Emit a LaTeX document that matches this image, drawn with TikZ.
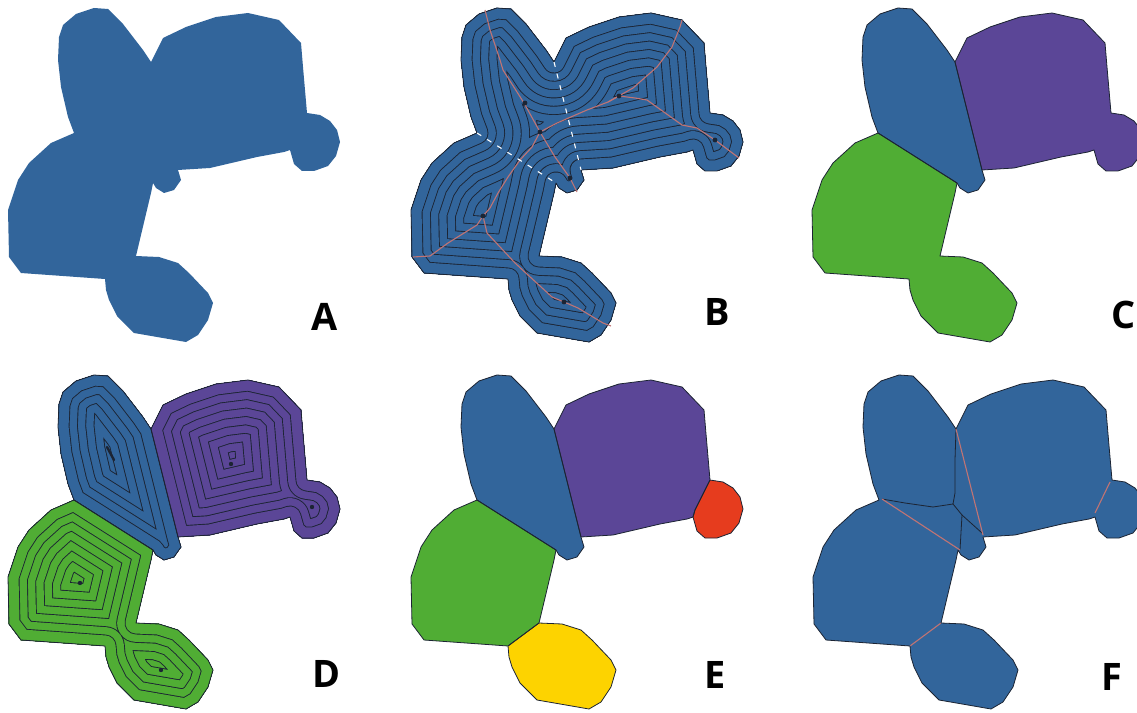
\documentclass[tikz,border=0pt]{standalone}
\usepackage{fontspec}
\setsansfont{Open Sans}
\usepackage{tikz}

\definecolor{regblue}{HTML}{32659B}
\definecolor{regpurple}{HTML}{5B4697}
\definecolor{reggreen}{HTML}{50AD34}
\definecolor{regred}{HTML}{E63C1E}
\definecolor{regyellow}{HTML}{FDD300}
\definecolor{ridgered}{HTML}{C07474}
\definecolor{inkline}{HTML}{1C2433}

% outlines of the regions, in pixels of panel A
\def\outline{(59,37) -- (63,25) -- (76,14) -- (94,8) -- (108,9) -- (123,24) -- (133,37) -- (143,50) -- (151,62) -- (163,38) -- (186,27) -- (216,17) -- (248,13) -- (279,20) -- (301,43) -- (303,67) -- (307,113) -- (320,115) -- (330,121) -- (337,130) -- (340,142) -- (336,156) -- (328,166) -- (314,171) -- (302,171) -- (294,164) -- (290,150) -- (284,152) -- (257,157) -- (210,168) -- (178,170) -- (181,180) -- (174,190) -- (164,193) -- (156,188) -- (153,183) -- (151,193) -- (136,256) -- (159,257) -- (178,263) -- (189,273) -- (208,293) -- (213,303) -- (208,320) -- (198,335) -- (186,342) -- (134,333) -- (117,316) -- (109,300) -- (106,290) -- (105,279) -- (21,273) -- (9,257) -- (8,210) -- (18,180) -- (29,163) -- (51,143) -- (74,133) -- (68,117) -- (61,87) -- (58,60) -- cycle}
\def\lobe{(151,62) -- (178,170) -- (181,180) -- (174,190) -- (164,193) -- (156,188) -- (153,183) -- (74,133) -- (68,117) -- (61,87) -- (58,60) -- (59,37) -- (63,25) -- (76,14) -- (94,8) -- (108,9) -- (123,24) -- (133,37) -- (143,50) -- cycle}
\def\purple{(151,62) -- (163,38) -- (186,27) -- (216,17) -- (248,13) -- (279,20) -- (301,43) -- (303,67) -- (307,113) -- (300,127) -- (292,143) -- (290,150) -- (284,152) -- (257,157) -- (210,168) -- (178,170) -- cycle}
\def\knob{(307,113) -- (320,115) -- (330,121) -- (337,130) -- (340,142) -- (336,156) -- (328,166) -- (314,171) -- (302,171) -- (294,164) -- (290,150) -- (292,143) -- (300,127) -- cycle}
\def\purpleknob{(151,62) -- (163,38) -- (186,27) -- (216,17) -- (248,13) -- (279,20) -- (301,43) -- (303,67) -- (307,113) -- (320,115) -- (330,121) -- (337,130) -- (340,142) -- (336,156) -- (328,166) -- (314,171) -- (302,171) -- (294,164) -- (290,150) -- (284,152) -- (257,157) -- (210,168) -- (178,170) -- cycle}
\def\green{(74,133) -- (51,143) -- (29,163) -- (18,180) -- (8,210) -- (9,257) -- (21,273) -- (105,279) -- (136,256) -- (151,193) -- (153,183) -- cycle}
\def\foot{(105,279) -- (106,290) -- (109,300) -- (117,316) -- (134,333) -- (186,342) -- (198,335) -- (208,320) -- (213,303) -- (208,293) -- (189,273) -- (178,263) -- (159,257) -- (136,256) -- cycle}
\def\greenfoot{(74,133) -- (51,143) -- (29,163) -- (18,180) -- (8,210) -- (9,257) -- (21,273) -- (105,279) -- (106,290) -- (109,300) -- (117,316) -- (134,333) -- (186,342) -- (198,335) -- (208,320) -- (213,303) -- (208,293) -- (189,273) -- (178,263) -- (159,257) -- (136,256) -- (151,193) -- (153,183) -- cycle}

% inner offset lines of a region
\newcommand\rings[2]{%
  \begin{scope}
    \clip #1;
    \fill[#2] #1;
    \foreach \k in {8,7,...,0}{%
      \pgfmathsetmacro\w{2*(11+8.3*\k)}
      \draw[inkline, line join=round, line width={(\w+0.9)*1bp}] #1;
      \draw[#2, line join=round, line width={(\w-0.9)*1bp}] #1;
    }
  \end{scope}}

\begin{document}
\begin{tikzpicture}[x=1bp, y=-1bp,
  rim/.style={draw=inkline, line width=0.8bp, line join=round},
  ridge/.style={ridgered, line width=1.1bp, line join=round},
  cutline/.style={white, line width=1.1bp, dash pattern=on 5bp off 7bp},
  seed/.style={fill=inkline},
  tag/.style={font=\sffamily\bfseries\fontsize{38}{38}\selectfont, inner sep=0pt, anchor=base west}
]
\useasboundingbox (0,0) rectangle (1137,713);

% A
\fill[regblue] \outline;
\node[tag] (labA) at (311,330) {A};

% B
\begin{scope}[shift={(403,0)}]
  \rings{\outline}{regblue}
  \draw[rim] \outline;
  \draw[ridge] (82,10) -- (87,30) -- (97,60) -- (100,70) -- (121,103) -- (137,132);
  \draw[ridge] (137,132) -- (154,123) -- (184,110) -- (205,102) -- (216,96) -- (232,98) -- (244,100) -- (279,125) -- (294,128) -- (312,140) -- (336,158);
  \draw[ridge] (205,102) -- (230,88) -- (254,67) -- (269,47) -- (277,27) -- (279,20);
  \draw[ridge] (137,132) -- (152,157) -- (167,178) -- (174,192);
  \draw[ridge] (137,132) -- (129,147) -- (117,160) -- (105,177) -- (95,193) -- (87,208) -- (80,216);
  \draw[ridge] (80,216) -- (74,225) -- (45,243) -- (27,256) -- (10,257);
  \draw[ridge] (80,216) -- (84,233) -- (112,263) -- (125,275) -- (149,297) -- (161,302) -- (175,308) -- (200,323) -- (208,326);
  \draw[cutline] (151,62) -- (178,170);
  \draw[cutline] (74,133) -- (153,183);
  \foreach \p in {(122,103),(137,132),(167,178),(216,96),(312,140),(80,216),(161,302)}
    \fill[seed] \p circle (2.4bp);
\end{scope}
\node[tag] (labB) at (704,325) {B};

% C
\begin{scope}[shift={(804,0)}]
  \fill[regblue] \lobe;
  \fill[regpurple] \purpleknob;
  \fill[reggreen] \greenfoot;
  \draw[rim] \lobe;
  \draw[rim] \purpleknob;
  \draw[rim] \greenfoot;
\end{scope}
\node[tag] (labC) at (1111,328) {C};

% D
\begin{scope}[shift={(0,367)}]
  \rings{\lobe}{regblue}
  \rings{\purpleknob}{regpurple}
  \rings{\greenfoot}{reggreen}
  \draw[rim] \lobe;
  \draw[rim] \purpleknob;
  \draw[rim] \greenfoot;
  \draw[inkline, line width=2.4bp, line cap=round] (107,80) -- (114,93);
  \foreach \p in {(231,97),(312,140),(80,216),(161,303)}
    \fill[seed] \p circle (2.2bp);
\end{scope}
\node[tag] (labD) at (312,687) {D};

% E
\begin{scope}[shift={(403,367)}]
  \fill[regblue] \lobe;
  \fill[regpurple] \purple;
  \fill[regred] \knob;
  \fill[reggreen] \green;
  \fill[regyellow] \foot;
  \foreach \r in {\lobe,\purple,\knob,\green,\foot}
    \draw[rim] \r;
\end{scope}
\node[tag] (labE) at (704,688) {E};

% F
\begin{scope}[shift={(805,367)}]
  \fill[regblue] \outline;
  \draw[rim] (77,132) -- (100,136) -- (128,140) -- (148,137) -- (150,126) -- (150,93) -- (151,62);
  \draw[rim] (148,137) -- (157,148) -- (155,183);
  \draw[rim] (157,148) -- (177,166);
  \draw[ridge] (77,132) -- (155,183);
  \draw[ridge] (151,62) -- (178,168);
  \draw[ridge] (305,115) -- (290,146);
  \draw[ridge] (105,279) -- (136,256);
  \draw[rim] \outline;
\end{scope}
\node[tag] (labF) at (1101,690) {F};
\end{tikzpicture}
\end{document}
